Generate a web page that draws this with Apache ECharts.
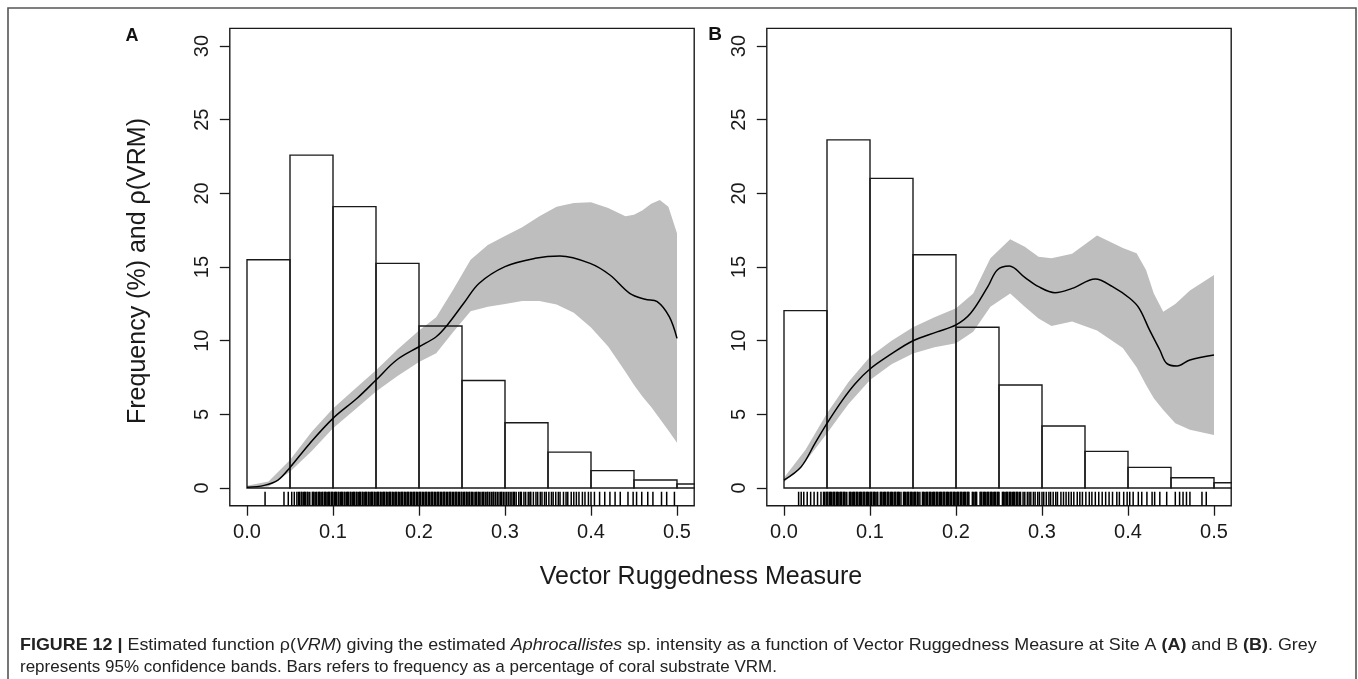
<!DOCTYPE html>
<html>
<head>
<meta charset="utf-8">
<script src="https://cdn.jsdelivr.net/npm/echarts@6/dist/echarts.min.js"></script>
<style>
  html, body { margin: 0; padding: 0; background: #ffffff; }
  #chart { width: 1358px; height: 679px; }
</style>
</head>
<body>
<div id="chart"></div>
<script>
// ---- histogram bins (VRM, width 0.05) ----
const binEdges = [0, 0.05, 0.10, 0.15, 0.20, 0.25, 0.30, 0.35, 0.40, 0.45, 0.50, 0.55];
const histA = [15.5, 22.6, 19.1, 15.25, 11.0, 7.3, 4.43, 2.44, 1.18, 0.54, 0.27];
const histB = [12.04, 23.63, 21.02, 15.84, 10.91, 6.99, 4.21, 2.49, 1.40, 0.70, 0.36];

// ---- estimated rho(VRM), Site A ----
const rhoXA = [0, 0.02, 0.036, 0.05, 0.073, 0.1, 0.128, 0.15, 0.174, 0.2, 0.22, 0.233, 0.252, 0.27, 0.3, 0.335, 0.364, 0.399, 0.422, 0.445, 0.463, 0.477, 0.491, 0.5];
const rhoYA = [0.05, 0.18, 0.54, 1.4, 3.03, 4.73, 6.09, 7.33, 8.69, 9.59, 10.27, 11.07, 12.54, 13.9, 15.03, 15.59, 15.75, 15.25, 14.46, 13.22, 12.81, 12.65, 11.63, 10.16];

// ---- 95% confidence band, Site A ----
const bandXA = [0, 0.025, 0.05, 0.075, 0.1, 0.125, 0.15, 0.175, 0.2, 0.22, 0.24, 0.26, 0.28, 0.3, 0.32, 0.34, 0.36, 0.38, 0.4, 0.42, 0.44, 0.45, 0.46, 0.47, 0.48, 0.49, 0.5];
const bandHiA = [0.15, 0.45, 1.9, 3.8, 5.4, 6.7, 8.0, 9.4, 10.7, 11.6, 13.5, 15.5, 16.5, 17.1, 17.7, 18.45, 19.1, 19.35, 19.4, 19.0, 18.45, 18.55, 18.85, 19.3, 19.55, 19.1, 17.3];
const bandLoA = [0.0, 0.1, 1.1, 2.5, 4.05, 5.3, 6.55, 7.6, 8.55, 9.15, 10.6, 12.0, 12.3, 12.5, 12.7, 12.7, 12.45, 11.9, 10.9, 9.6, 7.9, 7.0, 6.2, 5.5, 4.7, 3.9, 3.08];

// ---- estimated rho(VRM), Site B ----
const rhoXB = [0, 0.02, 0.036, 0.05, 0.068, 0.083, 0.1, 0.123, 0.15, 0.178, 0.2, 0.217, 0.237, 0.248, 0.262, 0.28, 0.296, 0.315, 0.335, 0.362, 0.382, 0.402, 0.413, 0.425, 0.437, 0.445, 0.457, 0.472, 0.5];
const rhoYB = [0.54, 1.45, 3.03, 4.39, 5.97, 7.1, 8.08, 9.03, 10.0, 10.6, 11.07, 11.86, 13.67, 14.8, 15.07, 14.3, 13.67, 13.26, 13.55, 14.19, 13.67, 12.88, 12.2, 10.73, 9.37, 8.46, 8.28, 8.69, 9.03];

// ---- 95% confidence band, Site B ----
const bandXB = [0, 0.025, 0.05, 0.075, 0.1, 0.125, 0.15, 0.175, 0.2, 0.22, 0.24, 0.263, 0.28, 0.296, 0.311, 0.335, 0.364, 0.394, 0.41, 0.421, 0.43, 0.441, 0.455, 0.472, 0.5];
const bandHiB = [0.7, 2.6, 5.07, 7.2, 8.91, 10.0, 10.91, 11.6, 12.2, 13.2, 15.6, 16.88, 16.38, 15.7, 15.6, 15.9, 17.15, 16.3, 15.93, 14.8, 13.2, 11.97, 12.5, 13.4, 14.46];
const bandLoB = [0.4, 1.8, 3.71, 5.7, 7.33, 8.4, 9.14, 9.55, 9.82, 10.61, 12.3, 13.2, 12.3, 11.5, 11.0, 11.3, 10.7, 9.5, 8.2, 7.0, 6.1, 5.3, 4.4, 3.95, 3.6];

// ---- coral substrate VRM observations (rug), in thousandths ----
const rugA = [21, 43, 48, 52, 55, 58,
  60, 61, 63, 64, 66, 67, 68, 70, 71, 73, 76, 77, 78, 80, 81, 83, 84, 85, 87, 88, 90, 91, 92, 94, 95, 96, 98, 99,
  100, 102, 103, 104, 106, 107, 109, 110, 111, 113, 114, 116, 117, 118, 120, 121, 123, 124, 125, 127, 128, 130, 131, 132,
  134, 135, 137, 138, 139, 141, 142, 144, 145, 146, 148, 149, 151, 152, 153, 155, 156, 158, 159, 160, 162, 163, 165, 166,
  167, 169, 170, 172, 173, 174, 176, 177, 179, 180, 181, 183, 184, 186, 187, 188, 190, 191, 193, 194, 195, 197, 198, 200,
  201, 202, 204, 205, 207, 208, 209, 211, 212, 214, 215, 216, 218, 219, 221, 222, 223, 225, 226, 228, 229, 230, 232, 233,
  235, 236, 237, 239, 240, 242, 243, 244, 246, 247, 249, 250, 252, 253, 255, 256, 258, 259, 261, 262, 264, 266, 267, 269,
  270, 272, 274, 275, 277, 279, 280, 282, 284, 286, 287, 289, 291, 293, 295, 296, 298, 300, 302, 304, 306,
  308, 310, 311, 313, 316, 318, 319, 322, 324, 327, 329, 330, 333, 336, 338, 341, 343, 346, 348, 351, 354, 356, 359,
  362, 364, 368, 371, 373, 377, 380, 383, 386, 390, 393, 397, 400,
  404, 410, 416, 422, 428, 434, 443, 449, 453, 459, 466, 472, 482, 488, 497];
const rugB = [17, 20, 23, 27, 31, 35, 39, 43,
  46, 47, 49, 50, 51, 53, 54, 55, 57, 58, 59, 61, 62, 63, 65, 66, 67, 69, 70, 71, 73, 76, 77, 78, 80, 81, 82, 84, 85, 86,
  88, 89, 90, 92, 93, 94, 96, 97, 98, 100, 101, 102, 104, 105, 106, 108, 109, 112, 113, 114, 116, 117, 118, 120, 121, 122,
  124, 125, 126, 128, 129, 130, 132, 133, 134, 136, 139, 140, 141, 143, 144, 145, 147, 148, 149, 151, 152, 153, 155, 156,
  158, 161, 162, 163, 165, 166, 167, 169, 170, 171, 173, 174, 175, 177, 178, 179, 181, 182, 183, 185, 186, 187, 189, 190,
  191, 193, 194, 195, 197, 198, 199, 201, 202, 203, 205, 206, 207, 209, 210, 211, 213, 214, 215, 219, 220, 222, 223, 224,
  228, 229, 230, 232, 233, 234, 236, 237, 238, 240, 241, 242, 244, 245, 246, 248, 249, 250, 254, 255, 256, 258, 259, 260,
  262, 263, 264, 266, 267, 268, 270, 271, 272, 274, 275,
  278, 280, 283, 285, 287, 290, 292, 295, 297, 300, 302, 305, 308, 310, 313, 316, 318, 322, 325, 328, 331, 334, 337,
  341, 344, 347, 351, 355, 358, 362, 366, 370, 374, 378, 382, 387, 390,
  395, 399, 402, 406, 412, 416, 422, 428, 431, 437, 445, 455, 460, 464, 468, 472, 486, 491];

// ---- axis ticks ----
const xTicks = [0, 0.1, 0.2, 0.3, 0.4, 0.5];
const xTickLabels = ['0.0', '0.1', '0.2', '0.3', '0.4', '0.5'];
const yTicks = [0, 5, 10, 15, 20, 25, 30];
const yTickLabels = ['0', '5', '10', '15', '20', '25', '30'];

const FONT = '"Liberation Sans", Arial, Helvetica, sans-serif';
const INK = '#1a1a1a';
const BAND = '#bebebe';

const chart = echarts.init(document.getElementById('chart'), null, { renderer: 'canvas' });

function zip(xs, ys) { return xs.map((x, i) => [x, ys[i]]); }

function xAxisFor(gi) {
  return {
    type: 'value', gridIndex: gi, min: -0.02, max: 0.52, position: 'bottom',
    axisLine: { show: false, onZero: false }, splitLine: { show: false },
    axisTick: { show: true, inside: false, customValues: xTicks, length: 10, lineStyle: { color: INK, width: 1.3 } },
    axisLabel: {
      customValues: xTicks, margin: 17, fontSize: 20, color: INK, fontFamily: FONT,
      formatter: v => xTickLabels[xTicks.findIndex(t => Math.abs(t - v) < 1e-9)]
    }
  };
}
function yAxisFor(gi) {
  return {
    type: 'value', gridIndex: gi, min: -1.2, max: 31.2, position: 'left',
    axisLine: { show: false, onZero: false }, splitLine: { show: false },
    axisTick: { show: true, inside: false, customValues: yTicks, length: 10, lineStyle: { color: INK, width: 1.3 } },
    axisLabel: {
      customValues: yTicks, rotate: 90, margin: 17, fontSize: 20, color: INK, fontFamily: FONT,
      formatter: v => yTickLabels[yTicks.indexOf(v)]
    }
  };
}

// grey 95% confidence band as one filled polygon
function bandSeries(gi, xs, lo, hi) {
  return {
    type: 'custom', xAxisIndex: gi, yAxisIndex: gi, clip: true, silent: true,
    data: [[0, 0]], z: 1,
    renderItem: (params, api) => {
      const pts = [];
      xs.forEach((x, i) => pts.push(api.coord([x, hi[i]])));
      for (let i = xs.length - 1; i >= 0; i--) pts.push(api.coord([xs[i], lo[i]]));
      return { type: 'polygon', shape: { points: pts }, style: { fill: BAND, stroke: null } };
    }
  };
}
// unfilled histogram rectangles
function histSeries(gi, vals) {
  return {
    type: 'custom', xAxisIndex: gi, yAxisIndex: gi, clip: true, silent: true, z: 2,
    data: vals.map((v, i) => [binEdges[i], binEdges[i + 1], v]),
    renderItem: (params, api) => {
      const p0 = api.coord([api.value(0), 0]);
      const p1 = api.coord([api.value(1), api.value(2)]);
      return {
        type: 'rect',
        shape: { x: p0[0], y: p1[1], width: p1[0] - p0[0], height: p0[1] - p1[1] },
        style: { fill: 'none', stroke: INK, lineWidth: 1.4 }
      };
    }
  };
}
// rug of observed VRM values along the bottom edge
function rugSeries(gi, vals) {
  return {
    type: 'custom', xAxisIndex: gi, yAxisIndex: gi, clip: true, silent: true, z: 2,
    data: vals.map(v => [v / 1000, 0]),
    renderItem: (params, api) => {
      const a = api.coord([api.value(0), -1.2]);
      const b = api.coord([api.value(0), -0.25]);
      return {
        type: 'line', shape: { x1: a[0], y1: a[1], x2: b[0], y2: b[1] },
        style: { stroke: '#000', lineWidth: 1.5 }
      };
    }
  };
}
function rhoSeries(gi, xs, ys) {
  return {
    type: 'line', xAxisIndex: gi, yAxisIndex: gi, data: zip(xs, ys), z: 3,
    smooth: 0.35, symbol: 'none', silent: true,
    lineStyle: { color: '#000', width: 1.5 }
  };
}

const gridBox = { show: true, borderColor: INK, borderWidth: 1.4, backgroundColor: 'transparent' };

chart.setOption({
  animation: false,
  backgroundColor: '#ffffff',
  grid: [
    Object.assign({ left: 229.8, top: 28.4, width: 464.4, height: 477.3 }, gridBox),
    Object.assign({ left: 766.8, top: 28.4, width: 464.4, height: 477.3 }, gridBox)
  ],
  xAxis: [xAxisFor(0), xAxisFor(1)],
  yAxis: [yAxisFor(0), yAxisFor(1)],
  series: [
    bandSeries(0, bandXA, bandLoA, bandHiA),
    histSeries(0, histA),
    rugSeries(0, rugA),
    rhoSeries(0, rhoXA, rhoYA),
    bandSeries(1, bandXB, bandLoB, bandHiB),
    histSeries(1, histB),
    rugSeries(1, rugB),
    rhoSeries(1, rhoXB, rhoYB)
  ],
  graphic: [
    // figure frame
    { type: 'rect', shape: { x: 8, y: 8, width: 1348, height: 690 },
      style: { fill: 'none', stroke: '#555', lineWidth: 1.6 }, silent: true },
    // panel letters
    { type: 'text', x: 132, y: 36, style: { text: 'A', font: 'bold 18px ' + FONT, fill: '#111', align: 'center', verticalAlign: 'middle' } },
    { type: 'text', x: 715, y: 35, style: { text: 'B', font: 'bold 19px ' + FONT, fill: '#111', align: 'center', verticalAlign: 'middle' } },
    // axis titles
    { type: 'text', x: 138, y: 271, rotation: Math.PI / 2,
      style: { text: 'Frequency (%) and \u03C1(VRM)', font: '25px ' + FONT, fill: INK, align: 'center', verticalAlign: 'middle' } },
    { type: 'text', x: 701, y: 577,
      style: { text: 'Vector Ruggedness Measure', font: '25px ' + FONT, fill: INK, align: 'center', verticalAlign: 'middle' } },
    // caption
    { type: 'text', x: 20, y: 645, scaleX: 1.053,
      style: {
        text: '{b|FIGURE 12 |} Estimated function \u03C1({i|VRM}) giving the estimated {i|Aphrocallistes} sp. intensity as a function of Vector Ruggedness Measure at Site A {b|(A)} and B {b|(B)}. Grey',
        font: '17px ' + FONT, fill: '#222', verticalAlign: 'middle',
        rich: {
          b: { font: 'bold 17px ' + FONT, fill: '#222' },
          i: { font: 'italic 17px ' + FONT, fill: '#222' }
        }
      } },
    { type: 'text', x: 20, y: 667,
      style: { text: 'represents 95% confidence bands. Bars refers to frequency as a percentage of coral substrate VRM.',
        font: '17px ' + FONT, fill: '#222', verticalAlign: 'middle' } }
  ]
});
</script>
</body>
</html>
